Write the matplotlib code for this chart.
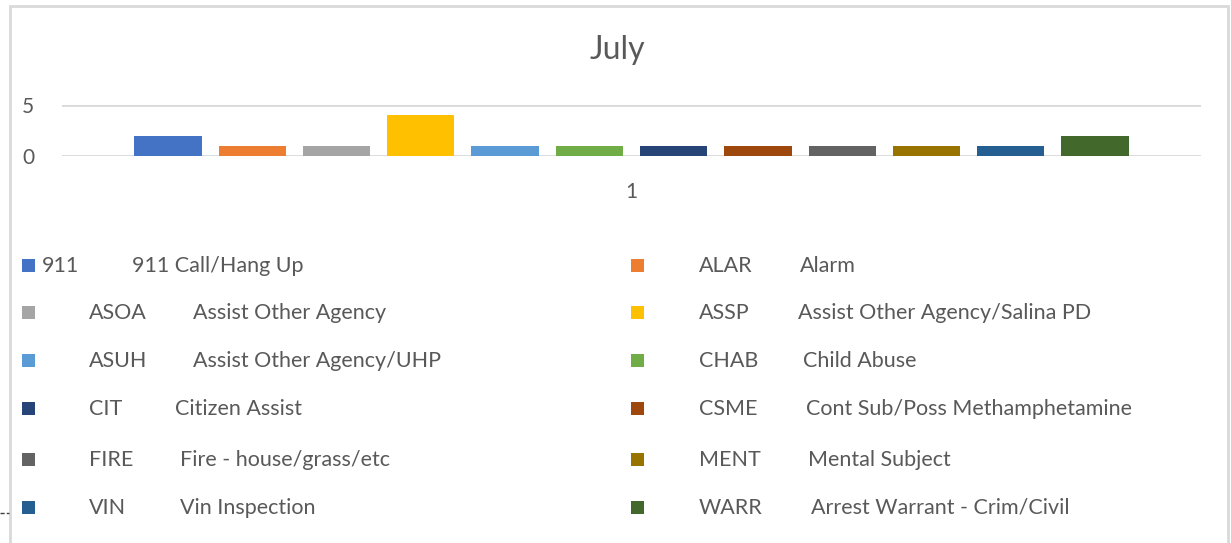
import numpy as np
import matplotlib.pyplot as plt
from matplotlib.patches import Rectangle
from matplotlib.lines import Line2D

# data: one category ("1"), twelve call types
category = ["1"]
codes = ["911", "ALAR", "ASOA", "ASSP", "ASUH", "CHAB",
         "CIT", "CSME", "FIRE", "MENT", "VIN", "WARR"]
descriptions = ["911 Call/Hang Up", "Alarm", "Assist Other Agency",
                "Assist Other Agency/Salina PD", "Assist Other Agency/UHP",
                "Child Abuse", "Citizen Assist", "Cont Sub/Poss Methamphetamine",
                "Fire - house/grass/etc", "Mental Subject", "Vin Inspection",
                "Arrest Warrant - Crim/Civil"]
counts = [2, 1, 1, 4, 1, 1, 1, 1, 1, 1, 1, 2]
colors = ["#4472C4", "#ED7D31", "#A5A5A5", "#FFC000", "#5B9BD5", "#70AD47",
          "#264478", "#9E480E", "#636363", "#997300", "#255E91", "#43682B"]

W, H = 1231, 543
plt.rcParams["font.family"] = ["Lato", "DejaVu Sans"]
txt = "#595959"
grid = "#D9D9D9"

fig = plt.figure(figsize=(W / 100, H / 100), dpi=100)
fig.patch.set_facecolor("white")

# chart frame
fig.patches.append(Rectangle((10 / W, -0.1), (1228 - 10) / W, 1.1 - 6 / H,
                             transform=fig.transFigure, fill=False,
                             edgecolor=grid, linewidth=2))
# stray dash at bottom left
fig.lines.append(Line2D([0, 9 / W], [1 - 513 / H, 1 - 513 / H],
                        transform=fig.transFigure, color="#404040",
                        linewidth=1, linestyle=(0, (3, 1.5))))

fig.text(617 / W, 1 - 59 / H, "July", ha="center", va="baseline",
         fontsize=23, color=txt)

# plot area
ax = fig.add_axes([62 / W, 1 - 156 / H, (1201 - 62) / W, (156 - 105) / H])
n = len(codes)
pitch = 0.0740
width = 0.059
x0 = np.arange(len(category))
for i in range(n):
    ax.bar(x0 + (i - (n - 1) / 2) * pitch, [counts[i]], width=width,
           color=colors[i], zorder=3)

ax.set_xlim(-0.5, 0.5)
ax.set_ylim(0, 5)
ax.set_yticks([0, 5])
ax.set_xticks(x0)
ax.set_xticklabels(category)
for s in ax.spines.values():
    s.set_visible(False)
ax.tick_params(axis="both", length=0, labelsize=15, labelcolor=txt)
ax.tick_params(axis="y", pad=20)
ax.tick_params(axis="x", pad=19)
ax.yaxis.grid(True, color=grid, linewidth=2, zorder=0)
ax.set_facecolor("none")

# legend, two columns
row_y = [265, 312, 360, 408, 459, 507]
marker_x = [22, 631]
code_x = [[42, 89, 89, 89, 89, 89], [699] * 6]
desc_x = [[132, 193, 193, 175, 180, 180], [800, 798, 803, 806, 808, 811]]
for i in range(n):
    col, row = i % 2, i // 2
    yc = 1 - row_y[row] / H
    yb = 1 - (row_y[row] + 7) / H
    fig.patches.append(Rectangle((marker_x[col] / W, yc - 6.5 / H), 13 / W, 13 / H,
                                 transform=fig.transFigure,
                                 facecolor=colors[i], edgecolor="none"))
    fig.text(code_x[col][row] / W, yb, codes[i], ha="left", va="baseline",
             fontsize=15.5, color=txt)
    fig.text(desc_x[col][row] / W, yb, descriptions[i], ha="left", va="baseline",
             fontsize=15.5, color=txt)

fig.savefig("out.png", dpi=100)
